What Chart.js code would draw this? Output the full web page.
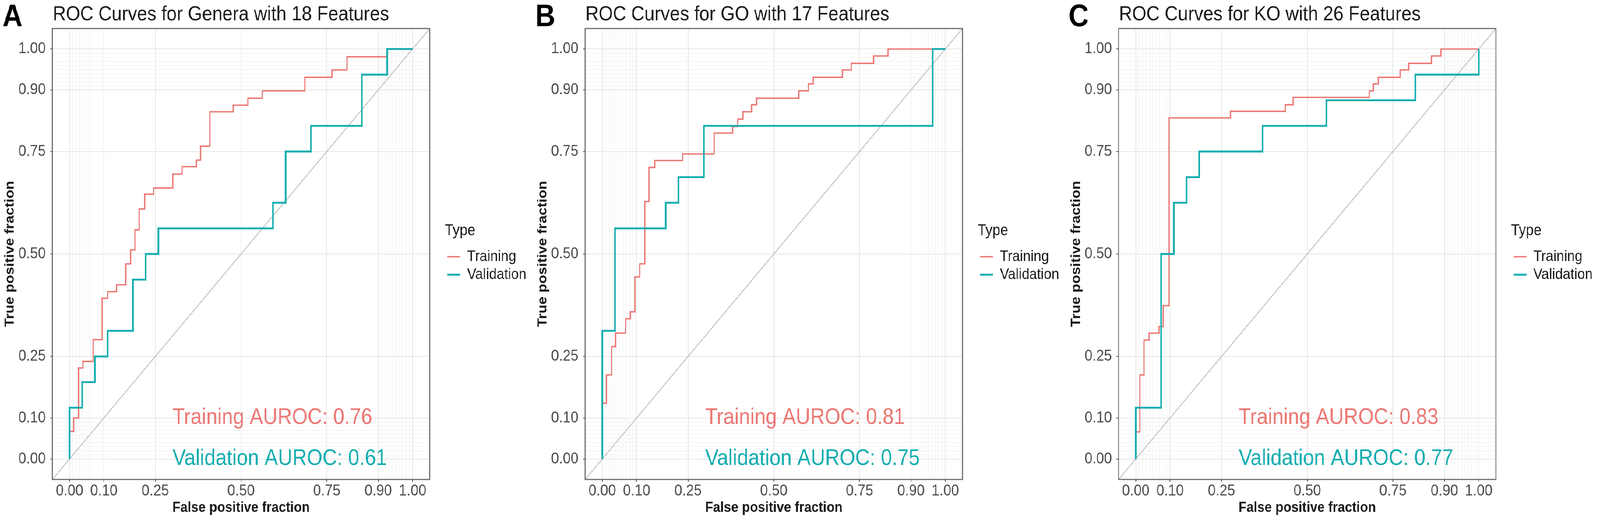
<!DOCTYPE html>
<html>
<head>
<meta charset="utf-8">
<title>ROC Curves</title>
<script src="https://cdn.jsdelivr.net/npm/chart.js@4.4.1/dist/chart.umd.min.js"></script>
<style>
  html, body { margin: 0; padding: 0; background: #ffffff; overflow: hidden; }
  #wrap { position: relative; width: 4550px; height: 1341px; overflow: hidden; background: #ffffff; transform-origin: 0 0; }
  #wrap canvas { position: absolute; top: 0; }
</style>
</head>
<body>
<div id="wrap">
  <canvas id="rocA" width="1517" height="1341" style="left:0px"></canvas>
  <canvas id="rocB" width="1517" height="1341" style="left:1515px"></canvas>
  <canvas id="rocC" width="1517" height="1341" style="left:3032px"></canvas>
</div>
<script>
// ---- Datos ----
const panelLetters = ['A', 'B', 'C'];
const panelTitles = [
    'ROC Curves for Genera with 18 Features',
    'ROC Curves for GO with 17 Features',
    'ROC Curves for KO with 26 Features'
];
const typeLabels = ['Training', 'Validation'];
const aurocTraining = [0.76, 0.81, 0.83];
const aurocValidation = [0.61, 0.75, 0.77];

const majorTicks = [0, 0.1, 0.25, 0.5, 0.75, 0.9, 1];
const minorTicks = [0.01, 0.02, 0.03, 0.04, 0.05, 0.06, 0.07, 0.08, 0.09,
                    0.91, 0.92, 0.93, 0.94, 0.95, 0.96, 0.97, 0.98, 0.99];

// Puntos de la escalera (fpr, tpr): en cada fpr la curva sube hasta tpr
const generaTrainFpr = [0, 0, 0.012, 0.026, 0.039, 0.069, 0.095, 0.111, 0.137, 0.164, 0.178, 0.191, 0.203, 0.219, 0.245, 0.301, 0.328, 0.370, 0.382, 0.409, 0.477, 0.520, 0.562, 0.686, 0.765, 0.809, 0.926, 1];
const generaTrainTpr = [0, 0.067, 0.100, 0.222, 0.238, 0.291, 0.392, 0.408, 0.425, 0.476, 0.510, 0.559, 0.610, 0.646, 0.661, 0.695, 0.713, 0.729, 0.763, 0.847, 0.863, 0.880, 0.898, 0.931, 0.949, 0.981, 1, 1];
const generaValidFpr = [0, 0, 0.037, 0.074, 0.111, 0.185, 0.222, 0.259, 0.593, 0.630, 0.704, 0.852, 0.926, 1];
const generaValidTpr = [0, 0.125, 0.1875, 0.25, 0.3125, 0.4375, 0.5, 0.5625, 0.625, 0.75, 0.8125, 0.9375, 1, 1];

const goTrainFpr = [0, 0, 0.012, 0.027, 0.039, 0.068, 0.082, 0.095, 0.109, 0.124, 0.136, 0.153, 0.234, 0.326, 0.380, 0.395, 0.410, 0.435, 0.450, 0.573, 0.601, 0.615, 0.700, 0.726, 0.791, 0.833, 1];
const goTrainTpr = [0, 0.136, 0.205, 0.274, 0.307, 0.342, 0.359, 0.444, 0.476, 0.628, 0.711, 0.728, 0.744, 0.795, 0.811, 0.829, 0.847, 0.864, 0.880, 0.898, 0.915, 0.931, 0.949, 0.965, 0.983, 1, 1];
const goValidFpr = [0, 0, 0.037, 0.185, 0.222, 0.296, 0.963, 1];
const goValidTpr = [0, 0.3125, 0.5625, 0.625, 0.6875, 0.8125, 1, 1];

const koTrainFpr = [0, 0, 0.012, 0.024, 0.039, 0.068, 0.080, 0.097, 0.276, 0.436, 0.459, 0.681, 0.693, 0.707, 0.771, 0.796, 0.862, 0.890, 1];
const koTrainTpr = [0, 0.066, 0.205, 0.290, 0.307, 0.323, 0.374, 0.832, 0.848, 0.864, 0.882, 0.898, 0.915, 0.931, 0.949, 0.965, 0.983, 1, 1];
const koValidFpr = [0, 0, 0.074, 0.111, 0.148, 0.185, 0.370, 0.556, 0.815, 1];
const koValidTpr = [0, 0.125, 0.5, 0.625, 0.6875, 0.75, 0.8125, 0.875, 0.9375, 1];

// ---- Estilo ----
const FONT = '"Liberation Sans", Arial, Helvetica, sans-serif';
const RED = '#EC7774';
const TEAL = '#14ADB0';
const AXIS_MIN = -0.05;
const AXIS_MAX = 1.05;
const allTicks = majorTicks.concat(minorTicks);

Chart.defaults.font.family = FONT;
Chart.defaults.color = '#1a1a1a';

const isMajor = v => majorTicks.some(m => Math.abs(m - v) < 1e-9);

// la ventana real puede ser más estrecha que la figura: se ajusta al ancho
const FIG_W = 4550, FIG_H = 1341;
const sx = Math.min(1, window.innerWidth / FIG_W);
const sy = Math.min(1, window.innerHeight / FIG_H);
document.getElementById('wrap').style.transform = 'scale(' + sx + ',' + sy + ')';

// ancho de la leyenda para fijar el borde derecho del panel
const measureCtx = document.createElement('canvas').getContext('2d');
measureCtx.font = '39px ' + FONT;
const legendWidth = 7 + 37 + 19.5 + measureCtx.measureText(typeLabels[1]).width + 10;
const CANVAS_W = 1517;
const padRight = Math.max(0, CANVAS_W - 1222 - 43 - legendWidth);

function toPoints(xs, ys) {
    return xs.map((x, i) => ({ x: x, y: ys[i] }));
}

const panelText = {
    id: 'panelText',
    afterDatasetsDraw(chart, args, opts) {
        const { ctx, chartArea, scales: { x, y } } = chart;
        ctx.save();
        // borde del panel
        ctx.strokeStyle = '#6e6e6e';
        ctx.lineWidth = 3;
        ctx.strokeRect(chartArea.left, chartArea.top, chartArea.right - chartArea.left, chartArea.bottom - chartArea.top);

        // letra del panel y título
        ctx.textAlign = 'left';
        ctx.textBaseline = 'alphabetic';
        ctx.fillStyle = '#000000';
        ctx.font = 'bold 79px ' + FONT;
        ctx.fillText(opts.letter, 7, 67);
        ctx.fillStyle = '#1a1a1a';
        ctx.font = '52px ' + FONT;
        ctx.fillText(opts.title, 150, 52);

        // textos AUROC
        ctx.textBaseline = 'middle';
        ctx.font = '57px ' + FONT;
        ctx.fillStyle = RED;
        ctx.fillText('Training AUROC: ' + opts.train.toFixed(2), x.getPixelForValue(0.30), y.getPixelForValue(0.10));
        ctx.fillStyle = TEAL;
        ctx.fillText('Validation AUROC: ' + opts.valid.toFixed(2), x.getPixelForValue(0.30), y.getPixelForValue(0.0));
        ctx.restore();
    }
};

function gridOptions() {
    return {
        color: c => isMajor(c.tick.value) ? '#e6e6e6' : '#efefef',
        lineWidth: c => isMajor(c.tick.value) ? 2 : 1.2,
        tickLength: 6,
        tickColor: c => isMajor(c.tick.value) ? '#444444' : 'rgba(0,0,0,0)',
        tickWidth: 2
    };
}

function tickOptions(pad) {
    return {
        autoSkip: false,
        maxRotation: 0,
        minRotation: 0,
        padding: pad,
        color: '#4d4d4d',
        font: { size: 40 },
        callback: v => isMajor(v) ? v.toFixed(2) : ''
    };
}

function initRoc(canvasId, idx, trainFpr, trainTpr, validFpr, validTpr) {
    const ctx = document.getElementById(canvasId);
    if (!ctx) return;

    new Chart(ctx, {
        type: 'line',
        data: {
            datasets: [{
                label: typeLabels[0],
                data: toPoints(trainFpr, trainTpr),
                borderColor: RED,
                backgroundColor: RED,
                borderWidth: 3.6,
                stepped: 'before',
                pointRadius: 0,
                xAxisID: 'x',
                yAxisID: 'y',
                order: 1
            }, {
                label: typeLabels[1],
                data: toPoints(validFpr, validTpr),
                borderColor: TEAL,
                backgroundColor: TEAL,
                borderWidth: 4.8,
                stepped: 'before',
                pointRadius: 0,
                xAxisID: 'x',
                yAxisID: 'y',
                order: 0
            }, {
                // diagonal de referencia (azar)
                label: '',
                data: [{ x: AXIS_MIN, y: AXIS_MIN }, { x: AXIS_MAX, y: AXIS_MAX }],
                borderColor: '#adadad',
                borderWidth: 1.8,
                pointRadius: 0,
                xAxisID: 'x',
                yAxisID: 'y',
                order: 2
            }]
        },
        options: {
            responsive: false,
            animation: false,
            devicePixelRatio: 1,
            events: [],
            layout: { padding: { top: 73, right: padRight, bottom: 0, left: 0 } },
            scales: {
                x: {
                    type: 'linear',
                    min: AXIS_MIN,
                    max: AXIS_MAX,
                    afterBuildTicks: s => { s.ticks = allTicks.map(v => ({ value: v })); },
                    afterFit: s => { s.height = 114; },
                    ticks: tickOptions(0),
                    grid: gridOptions(),
                    border: { display: false },
                    title: {
                        display: true,
                        text: 'False positive fraction',
                        color: '#1a1a1a',
                        font: { size: 37, weight: 'bold' },
                        padding: { top: 0, bottom: 19 }
                    }
                },
                y: {
                    type: 'linear',
                    position: 'left',
                    min: AXIS_MIN,
                    max: AXIS_MAX,
                    afterBuildTicks: s => { s.ticks = allTicks.map(v => ({ value: v })); },
                    afterFit: s => { s.width = 149; },
                    ticks: tickOptions(13),
                    grid: gridOptions(),
                    border: { display: false },
                    title: {
                        display: true,
                        text: 'True positive fraction',
                        color: '#1a1a1a',
                        font: { size: 37, weight: 'bold' },
                        padding: { top: 7, bottom: 0 }
                    }
                },
                // eje vacío: solo deja el hueco entre el panel y la leyenda
                yr: {
                    type: 'linear',
                    position: 'right',
                    display: true,
                    afterFit: s => { s.width = 43; },
                    ticks: { display: false },
                    grid: { display: false, drawTicks: false },
                    border: { display: false }
                }
            },
            plugins: {
                tooltip: { enabled: false },
                legend: {
                    position: 'right',
                    align: 'center',
                    fullSize: false,
                    title: {
                        display: true,
                        text: 'Type',
                        position: 'start',
                        color: '#1a1a1a',
                        font: { size: 40 },
                        padding: { top: 0, bottom: 12 }
                    },
                    labels: {
                        usePointStyle: true,
                        pointStyle: 'line',
                        pointStyleWidth: 37,
                        padding: 7,
                        color: '#1a1a1a',
                        font: { size: 39 },
                        filter: item => item.text !== '',
                        sort: (a, b) => a.datasetIndex - b.datasetIndex
                    }
                },
                panelText: {
                    letter: panelLetters[idx],
                    title: panelTitles[idx],
                    train: aurocTraining[idx],
                    valid: aurocValidation[idx]
                }
            }
        },
        plugins: [panelText]
    });
}

initRoc('rocA', 0, generaTrainFpr, generaTrainTpr, generaValidFpr, generaValidTpr);
initRoc('rocB', 1, goTrainFpr, goTrainTpr, goValidFpr, goValidTpr);
initRoc('rocC', 2, koTrainFpr, koTrainTpr, koValidFpr, koValidTpr);
</script>
</body>
</html>
